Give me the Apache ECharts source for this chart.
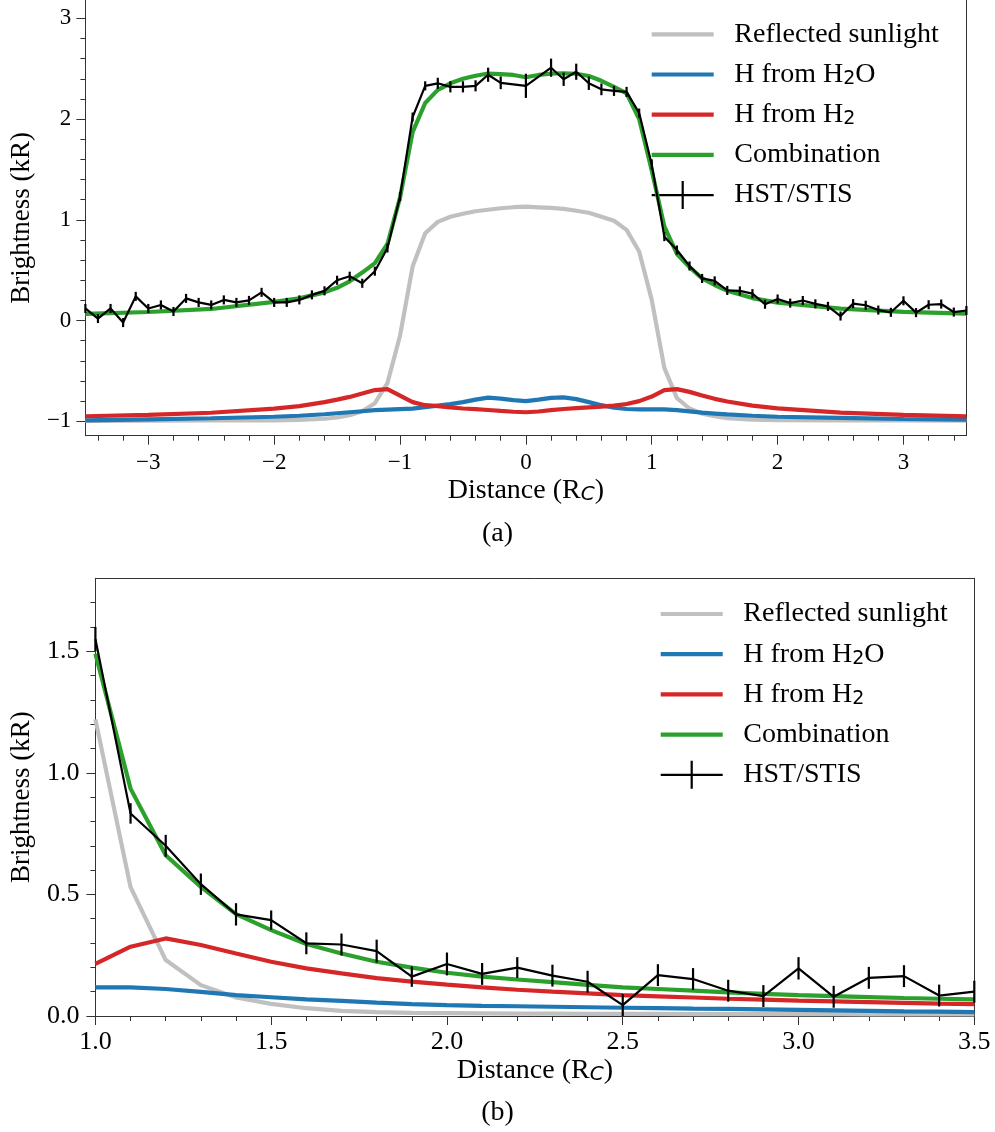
<!DOCTYPE html>
<html>
<head>
<meta charset="utf-8">
<script src="https://cdn.jsdelivr.net/npm/echarts@6.0.0/dist/echarts.min.js"></script>
<style>html,body{margin:0;padding:0;background:#fff}#c{width:995px;height:1132px}</style>
</head>
<body>
<div id="c"></div>
<script>
// ---------- Panel (a) : tick labels ----------
const xTicksA = [-3, -2, -1, 0, 1, 2, 3];
const yTicksA = [-1, 0, 1, 2, 3];
// ---------- Panel (b) : tick labels ----------
const xTicksB = [1.0, 1.5, 2.0, 2.5, 3.0, 3.5];
const yTicksB = [0.0, 0.5, 1.0, 1.5];

// ---------- Panel (a) : model curves (as drawn, offsets included) ----------
const xModelA = [-3.5,-3.0,-2.5,-2.0,-1.8,-1.6,-1.5,-1.4,-1.3,-1.2,-1.1,-1.0,-0.9,-0.8,-0.7,-0.6,-0.5,-0.4,-0.3,-0.2,-0.1,0.0,0.1,0.2,0.3,0.4,0.5,0.6,0.7,0.8,0.9,1.0,1.1,1.2,1.3,1.4,1.5,1.6,1.8,2.0,2.5,3.0,3.5];
const sunA = [-0.995,-0.994,-0.992,-0.99,-0.985,-0.975,-0.962,-0.94,-0.90,-0.82,-0.62,-0.15,0.536,0.866,0.98,1.03,1.06,1.085,1.10,1.115,1.125,1.13,1.124,1.118,1.108,1.09,1.07,1.03,0.99,0.90,0.685,0.205,-0.47,-0.77,-0.873,-0.924,-0.95,-0.968,-0.984,-0.988,-0.991,-0.992,-0.993];
const h2oA = [-0.99,-0.98,-0.97,-0.955,-0.945,-0.93,-0.92,-0.91,-0.90,-0.89,-0.885,-0.88,-0.875,-0.86,-0.845,-0.83,-0.81,-0.785,-0.765,-0.775,-0.79,-0.80,-0.785,-0.768,-0.762,-0.78,-0.81,-0.84,-0.865,-0.878,-0.882,-0.882,-0.882,-0.889,-0.901,-0.914,-0.923,-0.932,-0.945,-0.955,-0.966,-0.977,-0.984];
const h2A = [-0.95,-0.937,-0.915,-0.875,-0.85,-0.81,-0.785,-0.758,-0.725,-0.69,-0.68,-0.745,-0.81,-0.84,-0.85,-0.862,-0.873,-0.88,-0.888,-0.897,-0.905,-0.91,-0.903,-0.89,-0.878,-0.87,-0.862,-0.855,-0.845,-0.828,-0.80,-0.754,-0.69,-0.681,-0.708,-0.743,-0.777,-0.804,-0.844,-0.871,-0.914,-0.937,-0.951];
const combA = [0.066,0.085,0.115,0.185,0.22,0.28,0.325,0.39,0.476,0.57,0.76,1.22,1.87,2.16,2.29,2.355,2.40,2.43,2.452,2.447,2.438,2.415,2.438,2.452,2.455,2.45,2.428,2.38,2.32,2.256,2.0,1.49,0.935,0.661,0.531,0.419,0.353,0.296,0.223,0.178,0.118,0.086,0.068];

// ---------- Panel (a) : HST/STIS data ----------
const hstXA = [-3.5,-3.4,-3.3,-3.2,-3.1,-3.0,-2.9,-2.8,-2.7,-2.6,-2.5,-2.4,-2.3,-2.2,-2.1,-2.0,-1.9,-1.8,-1.7,-1.6,-1.5,-1.4,-1.3,-1.2,-1.1,-1.0,-0.9,-0.8,-0.7,-0.6,-0.5,-0.4,-0.3,-0.2,0.0,0.2,0.3,0.4,0.5,0.6,0.7,0.8,0.9,1.0,1.1,1.2,1.3,1.4,1.5,1.6,1.7,1.8,1.9,2.0,2.1,2.2,2.3,2.4,2.5,2.6,2.7,2.8,2.9,3.0,3.1,3.2,3.3,3.4,3.5];
const hstYA = [0.12,0.02,0.12,-0.02,0.24,0.12,0.155,0.09,0.22,0.18,0.155,0.205,0.18,0.2,0.28,0.18,0.18,0.205,0.255,0.295,0.40,0.44,0.37,0.49,0.72,1.23,2.02,2.33,2.355,2.32,2.32,2.33,2.44,2.36,2.33,2.51,2.395,2.47,2.355,2.295,2.28,2.27,2.06,1.55,0.833,0.70,0.542,0.418,0.394,0.299,0.294,0.267,0.162,0.214,0.173,0.199,0.166,0.141,0.045,0.168,0.152,0.104,0.082,0.196,0.079,0.157,0.164,0.084,0.10];
const hstErrA = [0.045,0.045,0.045,0.045,0.045,0.045,0.045,0.045,0.045,0.045,0.045,0.045,0.045,0.045,0.045,0.045,0.045,0.045,0.045,0.045,0.045,0.045,0.045,0.045,0.045,0.045,0.045,0.045,0.055,0.055,0.055,0.055,0.07,0.063,0.12,0.09,0.066,0.08,0.066,0.058,0.05,0.05,0.045,0.05,0.045,0.045,0.045,0.045,0.045,0.045,0.045,0.045,0.045,0.045,0.045,0.045,0.045,0.045,0.045,0.045,0.045,0.045,0.045,0.045,0.045,0.045,0.045,0.045,0.045];

// ---------- Panel (b) ----------
const xB = [1.0,1.1,1.2,1.3,1.4,1.5,1.6,1.7,1.8,1.9,2.0,2.1,2.2,2.3,2.4,2.5,2.6,2.7,2.8,2.9,3.0,3.1,3.2,3.3,3.4,3.5];
const sunB = [1.22,0.53,0.23,0.127,0.076,0.05,0.032,0.021,0.016,0.013,0.012,0.011,0.01,0.01,0.009,0.009,0.009,0.008,0.008,0.008,0.008,0.008,0.007,0.007,0.007,0.007];
const h2oB = [0.118,0.118,0.111,0.099,0.086,0.077,0.068,0.062,0.055,0.049,0.045,0.042,0.04,0.038,0.036,0.034,0.032,0.030,0.029,0.027,0.025,0.023,0.021,0.019,0.018,0.016];
const h2B = [0.214,0.285,0.319,0.292,0.257,0.223,0.196,0.175,0.156,0.141,0.129,0.118,0.108,0.100,0.093,0.086,0.081,0.076,0.071,0.067,0.063,0.060,0.057,0.054,0.051,0.049];
const combB = [1.49,0.935,0.661,0.531,0.419,0.353,0.296,0.257,0.223,0.199,0.178,0.162,0.150,0.139,0.128,0.118,0.111,0.104,0.097,0.091,0.086,0.082,0.078,0.074,0.071,0.068];
const hstB = [1.55,0.833,0.70,0.542,0.418,0.394,0.299,0.294,0.267,0.162,0.214,0.173,0.199,0.166,0.141,0.045,0.168,0.152,0.104,0.082,0.196,0.079,0.157,0.164,0.084,0.10];
const hstErrB = [0.05,0.042,0.045,0.044,0.046,0.04,0.045,0.045,0.047,0.042,0.047,0.045,0.043,0.045,0.045,0.045,0.045,0.045,0.045,0.045,0.046,0.045,0.045,0.045,0.045,0.045];

const names = ['Reflected sunlight', 'H from H2O', 'H from H2', 'Combination', 'HST/STIS'];
const colors = ['#c0c0c0', '#1f77b4', '#d62728', '#2ca02c', '#000000'];

const FONT = 'Liberation Serif';
const AX = '#333333';

function minorTicks(min, max, step, majors) {
  const out = [];
  for (let k = Math.ceil(min / step - 1e-9); k * step < max - 1e-6; k++) {
    const v = +(k * step).toFixed(6);
    if (!majors.some(m => Math.abs(m - v) < 1e-9)) out.push(v);
  }
  return out;
}
const zip = (xs, ys) => xs.map((x, i) => [x, ys[i]]);
const fmtA = v => (v < 0 ? '\u2212' + Math.abs(v) : String(v));
const fmtB = v => Number(v).toFixed(1);

const subRich = { sub: { fontFamily: 'DejaVu Sans', fontStyle: 'italic', fontSize: 20, lineHeight: 12, verticalAlign: 'bottom', color: '#000' } };
const nameStyle = (size) => ({ fontFamily: FONT, fontSize: size, color: '#000', lineHeight: 28, rich: subRich });

function mainAxis(o) {
  return {
    type: 'value', gridIndex: o.grid, position: o.pos, min: o.min, max: o.max,
    axisLine: { show: true, onZero: false, lineStyle: { color: AX, width: 1 } },
    axisTick: { show: true, customValues: o.ticks, length: 9, lineStyle: { color: AX, width: 1 } },
    axisLabel: { show: true, customValues: o.ticks, formatter: o.fmt, fontFamily: FONT, fontSize: o.fs, color: '#000', margin: o.margin },
    splitLine: { show: false }, minorTick: { show: false },
    name: o.name, nameLocation: 'middle', nameGap: o.nameGap, nameTextStyle: nameStyle(o.nameSize)
  };
}
function minorAxis(o) {
  return {
    type: 'value', gridIndex: o.grid, position: o.pos, min: o.min, max: o.max,
    axisLine: { show: false, onZero: false },
    axisTick: { show: true, customValues: o.ticks, length: 5, lineStyle: { color: AX, width: 1 } },
    axisLabel: { show: false }, splitLine: { show: false }
  };
}
function borderAxis(o) {
  return {
    type: 'value', gridIndex: o.grid, position: o.pos, min: o.min, max: o.max,
    axisLine: { show: true, onZero: false, lineStyle: { color: AX, width: 1 } },
    axisTick: { show: false }, axisLabel: { show: false }, splitLine: { show: false }
  };
}

const A = { xmin: -3.5, xmax: 3.5, ymin: -1.143, ymax: 3.182 };
const B = { xmin: 1.0, xmax: 3.5, ymin: 0.0, ymax: 1.8 };

const xAxis = [
  mainAxis({ grid: 0, pos: 'bottom', min: A.xmin, max: A.xmax, ticks: xTicksA, fmt: fmtA, fs: 23, margin: 16, name: 'Distance (R{sub|C})', nameGap: 41, nameSize: 28 }),
  minorAxis({ grid: 0, pos: 'bottom', min: A.xmin, max: A.xmax, ticks: minorTicks(A.xmin, A.xmax, 0.2, xTicksA) }),
  mainAxis({ grid: 1, pos: 'bottom', min: B.xmin, max: B.xmax, ticks: xTicksB, fmt: fmtB, fs: 26, margin: 13, name: 'Distance (R{sub|C})', nameGap: 41, nameSize: 28 }),
  minorAxis({ grid: 1, pos: 'bottom', min: B.xmin, max: B.xmax, ticks: minorTicks(B.xmin, B.xmax + 0.01, 0.1, xTicksB) }),
  borderAxis({ grid: 1, pos: 'top', min: B.xmin, max: B.xmax })
];
const yAxis = [
  mainAxis({ grid: 0, pos: 'left', min: A.ymin, max: A.ymax, ticks: yTicksA, fmt: fmtA, fs: 23, margin: 14, name: 'Brightness (kR)', nameGap: 46, nameSize: 27 }),
  minorAxis({ grid: 0, pos: 'left', min: A.ymin, max: A.ymax, ticks: minorTicks(A.ymin, A.ymax, 0.2, yTicksA) }),
  borderAxis({ grid: 0, pos: 'right', min: A.ymin, max: A.ymax }),
  mainAxis({ grid: 1, pos: 'left', min: B.ymin, max: B.ymax, ticks: yTicksB, fmt: fmtB, fs: 26, margin: 16, name: 'Brightness (kR)', nameGap: 53, nameSize: 27 }),
  minorAxis({ grid: 1, pos: 'left', min: B.ymin, max: B.ymax, ticks: minorTicks(B.ymin, B.ymax, 0.1, yTicksB) }),
  borderAxis({ grid: 1, pos: 'right', min: B.ymin, max: B.ymax })
];

function lineSeries(i, xi, yi, data) {
  return {
    type: 'line', name: names[i], xAxisIndex: xi, yAxisIndex: yi, data: data,
    color: colors[i], symbol: 'none', showSymbol: false, smooth: false,
    lineStyle: { color: colors[i], width: i === 4 ? 2.2 : 4.2 },
    z: 2 + i, silent: true
  };
}
function errSeries(xi, yi, xs, ys, es) {
  return {
    type: 'custom', name: 'err' + xi, xAxisIndex: xi, yAxisIndex: yi, z: 7, silent: true,
    encode: { x: 0, y: 1 },
    data: xs.map((x, i) => [x, ys[i], es[i]]),
    renderItem: (params, api) => {
      const x = api.value(0), y = api.value(1), e = api.value(2);
      const p1 = api.coord([x, y - e]);
      const p2 = api.coord([x, y + e]);
      return { type: 'line', shape: { x1: p1[0], y1: p1[1], x2: p2[0], y2: p2[1] }, style: { stroke: '#000', lineWidth: 2.2 } };
    }
  };
}

const series = [
  lineSeries(0, 0, 0, zip(xModelA, sunA)),
  lineSeries(1, 0, 0, zip(xModelA, h2oA)),
  lineSeries(2, 0, 0, zip(xModelA, h2A)),
  lineSeries(3, 0, 0, zip(xModelA, combA)),
  lineSeries(4, 0, 0, zip(hstXA, hstYA)),
  errSeries(0, 0, hstXA, hstYA, hstErrA),
  lineSeries(0, 2, 3, zip(xB, sunB)),
  lineSeries(1, 2, 3, zip(xB, h2oB)),
  lineSeries(2, 2, 3, zip(xB, h2B)),
  lineSeries(3, 2, 3, zip(xB, combB)),
  lineSeries(4, 2, 3, zip(xB, hstB)),
  errSeries(2, 3, xB, hstB, hstErrB)
];

// legend icons: 62 x 28 boxes (tiny corner dots fix the box size)
const barIcon = 'path://M0,0h0.01v0.01h-0.01z M0,11.9h62v4.2h-62z M61.99,27.99h0.01v0.01h-0.01z';
const crossIcon = 'path://M0,12.9h62v2.2h-62z M29.9,0h2.2v28h-2.2z';
const legendData = names.map((n, i) => ({
  name: n, icon: i === 4 ? crossIcon : barIcon,
  itemStyle: { borderWidth: 0, color: colors[i] }
}));
const legendFmt = n => n === 'H from H2O' ? 'H from H{s|2}O' : (n === 'H from H2' ? 'H from H{s|2}' : n);
function legend(left, top) {
  return {
    left: left, top: top, orient: 'vertical', padding: 0,
    itemWidth: 62, itemHeight: 28, itemGap: 12.2, selectedMode: false,
    data: legendData, formatter: legendFmt,
    textStyle: {
      fontFamily: FONT, fontSize: 28, color: '#000', lineHeight: 28, padding: [0, 0, 0, 15.6],
      rich: { s: { fontFamily: 'DejaVu Sans', fontSize: 19, lineHeight: 11, verticalAlign: 'bottom', color: '#000' } }
    }
  };
}

const capStyle = { fontFamily: FONT, fontSize: 28, fontWeight: 'normal', color: '#000', lineHeight: 28 };

const option = {
  animation: false,
  backgroundColor: '#ffffff',
  title: [
    { text: '(a)', left: 'center', top: 520, padding: 0, textStyle: capStyle },
    { text: '(b)', left: 'center', top: 1099, padding: 0, textStyle: capStyle }
  ],
  grid: [
    { left: 82.2, top: 0, width: 884.2, height: 435.7 },
    { left: 90.7, top: 578.3, width: 883.6, height: 437.7 }
  ],
  legend: [legend(651.7, 20.3), legend(660.7, 600)],
  xAxis: xAxis,
  yAxis: yAxis,
  series: series
};

const chart = echarts.init(document.getElementById('c'), null, { renderer: 'canvas' });
chart.setOption(option);
</script>
</body>
</html>
